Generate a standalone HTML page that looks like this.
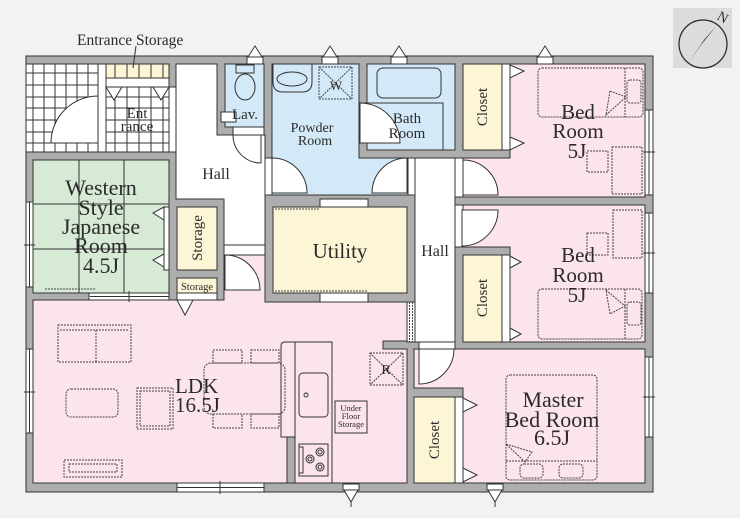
<!DOCTYPE html>
<html><head><meta charset="utf-8"><style>
html,body{margin:0;padding:0;background:#f2f2f2;}
svg{display:block;}
text{font-family:"Liberation Serif",serif;fill:#2b2b2b;}
</style></head><body>
<svg width="740" height="518" viewBox="0 0 740 518" xmlns="http://www.w3.org/2000/svg">
<rect x="0" y="0" width="740" height="518" fill="#f2f2f2"/>

<!-- building base (walls) -->
<rect x="26" y="56" width="627" height="436" fill="#adadae" stroke="#333" stroke-width="1"/>

<g stroke="#333" stroke-width="1">
<!-- entrance -->
<rect x="26" y="64" width="72" height="88" fill="#fff"/>
<rect x="98" y="64" width="8" height="88" fill="#fff"/>
<rect x="106" y="64" width="63" height="88" fill="#fff"/>
<rect x="169" y="87" width="7" height="65" fill="#fff"/>
<!-- left tiles -->
<path d="M33,64V152M44,64V152M55,64V152M66,64V152M77,64V152M88,64V152M26,73H98M26,85H98M26,97H98M26,108H98M26,120H98M26,132H98M26,143H98" fill="none"/>
<!-- right tiles -->
<path d="M115,87V152M127,87V152M139,87V152M151,87V152M163,87V152M106,97H169M106,108H169M106,120H169M106,132H169M106,143H169" fill="none"/>
<!-- entrance storage -->
<rect x="106" y="64" width="63" height="14" fill="#fcf5d6"/>
<path d="M115,64V78M127,64V78M139,64V78M151,64V78M163,64V78" fill="none"/>
<rect x="106" y="78" width="63" height="9" fill="#fff"/>
<polygon points="106,87 122,87 114,100" fill="#fff"/>
<polygon points="153,87 169,87 161,100" fill="#fff"/>
<!-- entrance door -->
<path d="M98,143 L98,96 A47,47 0 0 0 51,143 Z" fill="#fff"/>

<!-- hall -->
<path d="M176,64 H217 V135 H265 V245 H224 V199 H176 Z" fill="#fff"/>
<!-- lav -->
<rect x="225" y="64" width="39" height="63" fill="#d3e9f7"/>
<rect x="233" y="127" width="31" height="8" fill="#fff"/>
<rect x="236" y="65" width="18" height="8" fill="#d3e9f7"/>
<ellipse cx="245" cy="87" rx="10" ry="13" fill="#d3e9f7"/>
<rect x="221" y="112" width="15" height="10" fill="#fff"/>
<path d="M261,135 L233,135 A28,28 0 0 0 261,163 Z" fill="#fff"/>

<!-- powder -->
<path d="M272,64 H359 V158 H408 V195 H272 Z" fill="#d3e9f7"/>
<path d="M273,64 H312 V82 Q312,92 302,92 H283 Q273,92 273,82 Z" fill="#d3e9f7"/>
<ellipse cx="292" cy="79" rx="15" ry="7" fill="#d3e9f7"/>
<rect x="265" y="158" width="7" height="37" fill="#fff"/>
<path d="M272,193 L272,158 A35,35 0 0 1 307,193 Z" fill="#fff"/>
<rect x="408" y="158" width="7" height="37" fill="#fff"/>
<path d="M407,193 L407,158 A35,35 0 0 0 372,193 Z" fill="#fff"/>

<!-- bath -->
<rect x="367" y="64" width="88" height="86" fill="#d3e9f7"/>
<rect x="377" y="68" width="64" height="30" rx="6" fill="#d3e9f7"/>
<rect x="367" y="103" width="76" height="47" fill="none"/>
<rect x="359" y="103" width="8" height="40" fill="#fff"/>
<path d="M360,143 L360,103 A40,40 0 0 1 400,143 Z" fill="#fff"/>

<!-- closet 1 & bedroom 1 -->
<rect x="463" y="64" width="39" height="86" fill="#fcf5d6"/>
<rect x="502" y="64" width="8" height="86" fill="#fff"/>
<path d="M510,64 H645 V197 H463 V158 H510 Z" fill="#fbe4ee"/>
<polygon points="510,65 524,71 510,78" fill="#fff"/>
<polygon points="510,137 524,143 510,150" fill="#fff"/>
<rect x="455" y="158" width="8" height="39" fill="#fff"/>
<path d="M463,195 L463,160 A35,35 0 0 1 498,195 Z" fill="#fff"/>

<!-- bedroom 2 & closet 2 -->
<path d="M463,205 H645 V342 H510 V247 H463 Z" fill="#fbe4ee"/>
<rect x="463" y="255" width="39" height="87" fill="#fcf5d6"/>
<rect x="502" y="255" width="8" height="87" fill="#fff"/>
<polygon points="510,256 521,262 510,268" fill="#fff"/>
<polygon points="510,328 521,334 510,340" fill="#fff"/>
<rect x="455" y="205" width="8" height="42" fill="#fff"/>
<path d="M462,210 L498,210 A36,36 0 0 1 462,246 Z" fill="#fff"/>

<!-- right hall -->
<rect x="415" y="158" width="40" height="184" fill="#fff"/>

<!-- master -->
<path d="M414,349 H645 V483 H463 V388 H414 Z" fill="#fbe4ee"/>
<rect x="414" y="397" width="41" height="86" fill="#fcf5d6"/>
<rect x="455" y="397" width="8" height="86" fill="#fff"/>
<polygon points="463,398 477,405 463,412" fill="#fff"/>
<polygon points="463,468 477,475 463,482" fill="#fff"/>
<rect x="419" y="342" width="36" height="7" fill="#fff"/>
<path d="M419,349 L454,349 A35,35 0 0 1 419,384 Z" fill="#fff"/>

<!-- utility -->
<rect x="273" y="207" width="134" height="86" fill="#fcf5d6"/>
<rect x="320" y="199" width="48" height="8" fill="#fff"/>
<rect x="320" y="293" width="48" height="9" fill="#fff"/>

<!-- storage -->
<rect x="177" y="207" width="40" height="63" fill="#fcf5d6"/>
<rect x="177" y="278" width="40" height="15" fill="#fcf5d6"/>
<rect x="177" y="293" width="40" height="7" fill="#fff"/>

<!-- japanese room -->
<rect x="33" y="160" width="136" height="133" fill="#d7ead5"/>
<path d="M79,160V293M124,160V293M33,204H169M33,249H169" fill="none"/>
<rect x="164" y="207" width="5" height="63" fill="#fff"/>
<polygon points="164,207 153,213 164,220" fill="#fff"/>
<polygon points="164,254 153,260 164,267" fill="#fff"/>
<rect x="89" y="293" width="80" height="7" fill="#fff"/>

<!-- LDK -->
<path d="M33,300 H224 V255 H265 V302 H407 V341 H383 V349 H407 V483 H33 Z" fill="#fbe4ee"/>
<rect x="224" y="245" width="41" height="10" fill="#fff"/>
<path d="M225,290 L225,255 A35,35 0 0 1 260,290 Z" fill="#fff"/>
<polygon points="177,300 193,300 185,315" fill="#fff"/>
<rect x="407" y="302" width="8" height="40" fill="#fff"/>

<!-- kitchen -->
<path d="M295,342 V437 H281 V346 Q281,342 285,342 Z" fill="#fbe4ee"/>
<rect x="295" y="342" width="37" height="141" fill="#fbe4ee"/>
<rect x="287" y="437" width="8" height="46" fill="#adadae"/>
<rect x="299" y="373" width="29" height="44" rx="4" fill="#fbe4ee"/>
<circle cx="306" cy="395" r="2" fill="none"/>
<rect x="299" y="444" width="29" height="32" fill="#fbe4ee"/>
<rect x="299" y="447" width="4" height="26" fill="#fbe4ee"/>
<circle cx="320" cy="452" r="4" fill="none"/><circle cx="320" cy="452" r="2" fill="none"/>
<circle cx="310" cy="459" r="4" fill="none"/><circle cx="310" cy="459" r="2" fill="none"/>
<circle cx="320" cy="467" r="4" fill="none"/><circle cx="320" cy="467" r="2" fill="none"/>
<rect x="335" y="401" width="32" height="32" fill="#fbe4ee"/>

<!-- windows -->
<rect x="26" y="202" width="7" height="85" fill="#fff"/>
<rect x="26" y="349" width="7" height="84" fill="#fff"/>
<rect x="177" y="483" width="87" height="9" fill="#fff"/>
<rect x="645" y="110" width="8" height="85" fill="#fff"/>
<rect x="645" y="213" width="8" height="80" fill="#fff"/>
<rect x="645" y="357" width="8" height="80" fill="#fff"/>
<path d="M29.5,202V287M29.5,349V433M177,487.5H264M649,110V195M649,213V293M649,357V437M24,245H35M24,392H35M220,481V494M643,152H655M643,253H655M643,397H655M129,291V302M90,296.5H169" fill="none"/>

<!-- vents -->
<g fill="#fff">
<rect x="247" y="57" width="16" height="7"/><polygon points="248,57 255,46 262,57"/>
<rect x="322" y="57" width="16" height="7"/><polygon points="323,57 330,46 337,57"/>
<rect x="391" y="57" width="16" height="7"/><polygon points="392,57 399,46 406,57"/>
<rect x="537" y="57" width="16" height="7"/><polygon points="538,57 545,46 552,57"/>
<rect x="343" y="484" width="16" height="6"/><polygon points="344,490 351,502 358,490"/>
<rect x="487" y="484" width="16" height="6"/><polygon points="488,490 495,502 502,490"/>
</g>
<path d="M351,502V507M495,502V507M136,46L133,68" fill="none"/>
</g>

<!-- dashed lines / furniture -->
<g fill="none" stroke="#444" stroke-width="1" stroke-dasharray="2,1">
<path d="M275,209H320M275,291H368M409.5,302V342M412.5,302V342M45,289H95"/>
<rect x="319" y="67" width="33" height="32"/>
<path d="M319,67L352,99M352,67L319,99"/>
<rect x="370" y="353" width="33" height="32"/>
<path d="M370,353L403,385M403,353L370,385"/>
<!-- LDK -->
<rect x="58" y="325" width="73" height="37"/>
<path d="M60,330H129M96,330V362"/>
<rect x="66" y="389" width="52" height="28" rx="5"/>
<rect x="137" y="388" width="36" height="41"/>
<rect x="140" y="391" width="30" height="35"/>
<rect x="64" y="460" width="58" height="17"/>
<rect x="69" y="464" width="48" height="8"/>
<rect x="204" y="363" width="81" height="51" rx="7"/>
<rect x="213" y="350" width="29" height="13"/>
<rect x="251" y="350" width="28" height="13"/>
<rect x="213" y="414" width="29" height="14"/>
<rect x="251" y="414" width="28" height="14"/>
<!-- BR1 -->
<rect x="538" y="68" width="105" height="49" rx="4"/>
<path d="M625,68V117"/>
<rect x="627" y="80" width="14" height="23" rx="3"/>
<polygon points="610,91 626,97 606,115"/>
<rect x="612" y="147" width="30" height="47"/>
<rect x="587" y="151" width="21" height="21"/>
<!-- BR2 -->
<rect x="538" y="289" width="104" height="50" rx="4"/>
<path d="M625,289V339"/>
<rect x="627" y="302" width="14" height="23" rx="3"/>
<polygon points="606,290 625,306 610,314"/>
<rect x="613" y="210" width="29" height="48"/>
<rect x="587" y="233" width="21" height="22"/>
<!-- master -->
<rect x="506" y="375" width="91" height="105" rx="4"/>
<path d="M506,461H597"/>
<rect x="520" y="464" width="23" height="14" rx="4"/>
<rect x="559" y="464" width="24" height="14" rx="4"/>
<polygon points="506,444 532,452 525,462"/>
</g>

<!-- compass -->
<rect x="673" y="8" width="59" height="60" fill="#dcdcdc"/>
<circle cx="703" cy="44" r="24" fill="none" stroke="#222" stroke-width="1.2"/>
<polygon points="689,62 704,40 717,25 701,45" fill="#222"/>
<text x="723" y="22" font-size="14" text-anchor="middle" transform="rotate(30 723 17)">N</text>

<!-- labels -->
<text x="77" y="45" font-size="15.5">Entrance Storage</text>
<text x="137" y="118" font-size="15" text-anchor="middle">Ent</text>
<text x="137" y="131" font-size="15" text-anchor="middle">rance</text>
<text x="245" y="119" font-size="15" text-anchor="middle">Lav.</text>
<text x="216" y="179" font-size="16" text-anchor="middle">Hall</text>
<text x="312" y="132" font-size="14" text-anchor="middle">Powder</text>
<text x="315" y="145" font-size="14" text-anchor="middle">Room</text>
<text x="407" y="123" font-size="15" text-anchor="middle">Bath</text>
<text x="407" y="138" font-size="15" text-anchor="middle">Room</text>
<text x="483" y="107" font-size="15" text-anchor="middle" dominant-baseline="central" transform="rotate(-90 483 107)">Closet</text>
<text x="578" y="119" font-size="21" text-anchor="middle">Bed</text>
<text x="578" y="138" font-size="21" text-anchor="middle">Room</text>
<text x="577" y="158" font-size="21" text-anchor="middle">5J</text>
<text x="101" y="195" font-size="22" text-anchor="middle">Western</text>
<text x="101" y="215" font-size="22" text-anchor="middle">Style</text>
<text x="101" y="234" font-size="22" text-anchor="middle">Japanese</text>
<text x="101" y="253" font-size="22" text-anchor="middle">Room</text>
<text x="101" y="273" font-size="22" text-anchor="middle">4.5J</text>
<text x="198" y="238" font-size="15" text-anchor="middle" dominant-baseline="central" transform="rotate(-90 198 238)">Storage</text>
<text x="197" y="290" font-size="10.5" text-anchor="middle">Storage</text>
<text x="340" y="258" font-size="21" text-anchor="middle">Utility</text>
<text x="435" y="256" font-size="16" text-anchor="middle">Hall</text>
<text x="578" y="262" font-size="21" text-anchor="middle">Bed</text>
<text x="578" y="282" font-size="21" text-anchor="middle">Room</text>
<text x="577" y="302" font-size="21" text-anchor="middle">5J</text>
<text x="483" y="298" font-size="15" text-anchor="middle" dominant-baseline="central" transform="rotate(-90 483 298)">Closet</text>
<text x="175" y="393" font-size="21">LDK</text>
<text x="175" y="412" font-size="21">16.5J</text>
<text x="351" y="411" font-size="8.5" text-anchor="middle">Under</text>
<text x="351" y="419" font-size="8.5" text-anchor="middle">Floor</text>
<text x="351" y="427" font-size="8.5" text-anchor="middle">Storage</text>
<text x="386" y="374" font-size="14" text-anchor="middle">R</text>
<text x="336" y="90" font-size="13" text-anchor="middle">W</text>
<text x="553" y="407" font-size="22" text-anchor="middle">Master</text>
<text x="552" y="427" font-size="22" text-anchor="middle">Bed Room</text>
<text x="552" y="445" font-size="22" text-anchor="middle">6.5J</text>
<text x="435" y="440" font-size="15" text-anchor="middle" dominant-baseline="central" transform="rotate(-90 435 440)">Closet</text>
</svg>
</body></html>
